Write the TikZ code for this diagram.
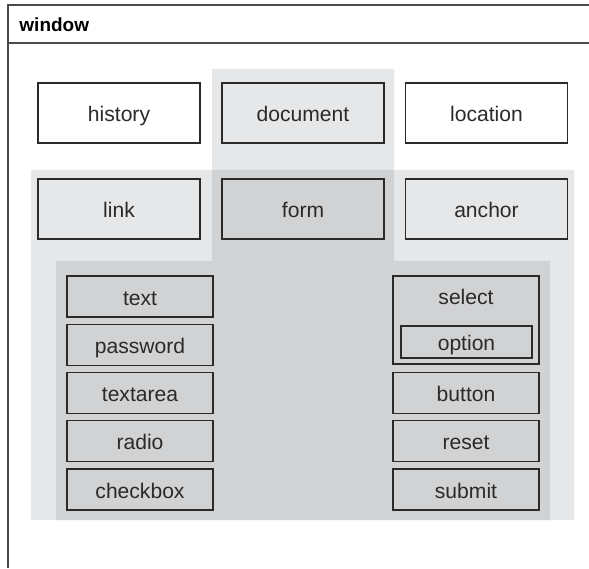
\documentclass[tikz,border=0pt]{standalone}
\usepackage{fontspec}
\setmainfont{Liberation Sans}
\usetikzlibrary{positioning}

\definecolor{lightpane}{HTML}{E6E7E8}
\definecolor{darkpane}{HTML}{D1D2D4}
\definecolor{inkgray}{HTML}{2A2A2A}

\begin{document}
\begin{tikzpicture}[
        bigbox/.style={rectangle, draw=inkgray, line width=1.1pt,
                       minimum width=4.05cm, minimum height=1.5cm,
                       font=\fontsize{15}{17}\selectfont, text=inkgray,
                       text height=2.5ex, text depth=0.2ex},
        smallbox/.style={rectangle, draw=inkgray, line width=0.85pt, fill=darkpane,
                         minimum width=3.65cm, minimum height=1.025cm,
                         font=\fontsize{15}{17}\selectfont, text=inkgray,
                         text height=2.5ex, text depth=0.2ex},
        frameline/.style={draw=inkgray!85, line width=1.1pt}
    ]
        \useasboundingbox (0,0) rectangle (14.725,14.2);

        % window frame
        \draw[frameline] (0.2,0) -- (0.2,14.075) -- (14.725,14.075);
        \draw[frameline] (0.2,13.125) -- (14.725,13.125);
        \node[anchor=west, inner sep=0, font=\fontsize{13.5}{15}\selectfont\bfseries]
            (window) at (0.48,13.575) {window};

        % panes
        \fill[lightpane] (5.3,12.475) -- (9.85,12.475) -- (9.85,9.95) -- (14.35,9.95)
            -- (14.35,1.2) -- (0.775,1.2) -- (0.775,9.95) -- (5.3,9.95) -- cycle;
        \fill[darkpane] (5.3,9.95) -- (9.85,9.95) -- (9.85,7.675) -- (13.75,7.675)
            -- (13.75,1.2) -- (1.4,1.2) -- (1.4,7.675) -- (5.3,7.675) -- cycle;

        % top level
        \node[bigbox, fill=white]     (history)  at (2.975,11.375)  {history};
        \node[bigbox, fill=lightpane] (document) at (7.575,11.375)  {document};
        \node[bigbox, fill=white]     (location) at (12.1625,11.375) {location};

        \node[bigbox, fill=lightpane] (link)   at (2.975,8.975)   {link};
        \node[bigbox, fill=darkpane]  (form)   at (7.575,8.975)   {form};
        \node[bigbox, fill=lightpane] (anchor) at (12.1625,8.975) {anchor};

        % form elements
        \node[smallbox] (text)     at (3.5,6.7875) {text};
        \node[smallbox] (password) at (3.5,5.581)  {password};
        \node[smallbox] (textarea) at (3.5,4.375)  {textarea};
        \node[smallbox] (radio)    at (3.5,3.169)  {radio};
        \node[smallbox] (checkbox) at (3.5,1.9625) {checkbox};

        \node[smallbox, minimum height=2.2cm] (select) at (11.65,6.2) {};
        \node[below=0.51cm of select.north, anchor=center, inner sep=0,
              font=\fontsize{15}{17}\selectfont, text=inkgray,
              text height=2.5ex, text depth=0.2ex] (selectlbl) {select};
        \node[smallbox, minimum width=3.275cm, minimum height=0.8cm]
            (option) at (11.6625,5.65) {option};
        \node[smallbox] (button) at (11.65,4.375)  {button};
        \node[smallbox] (reset)  at (11.65,3.169)  {reset};
        \node[smallbox] (submit) at (11.65,1.9625) {submit};
    \end{tikzpicture}
\end{document}
